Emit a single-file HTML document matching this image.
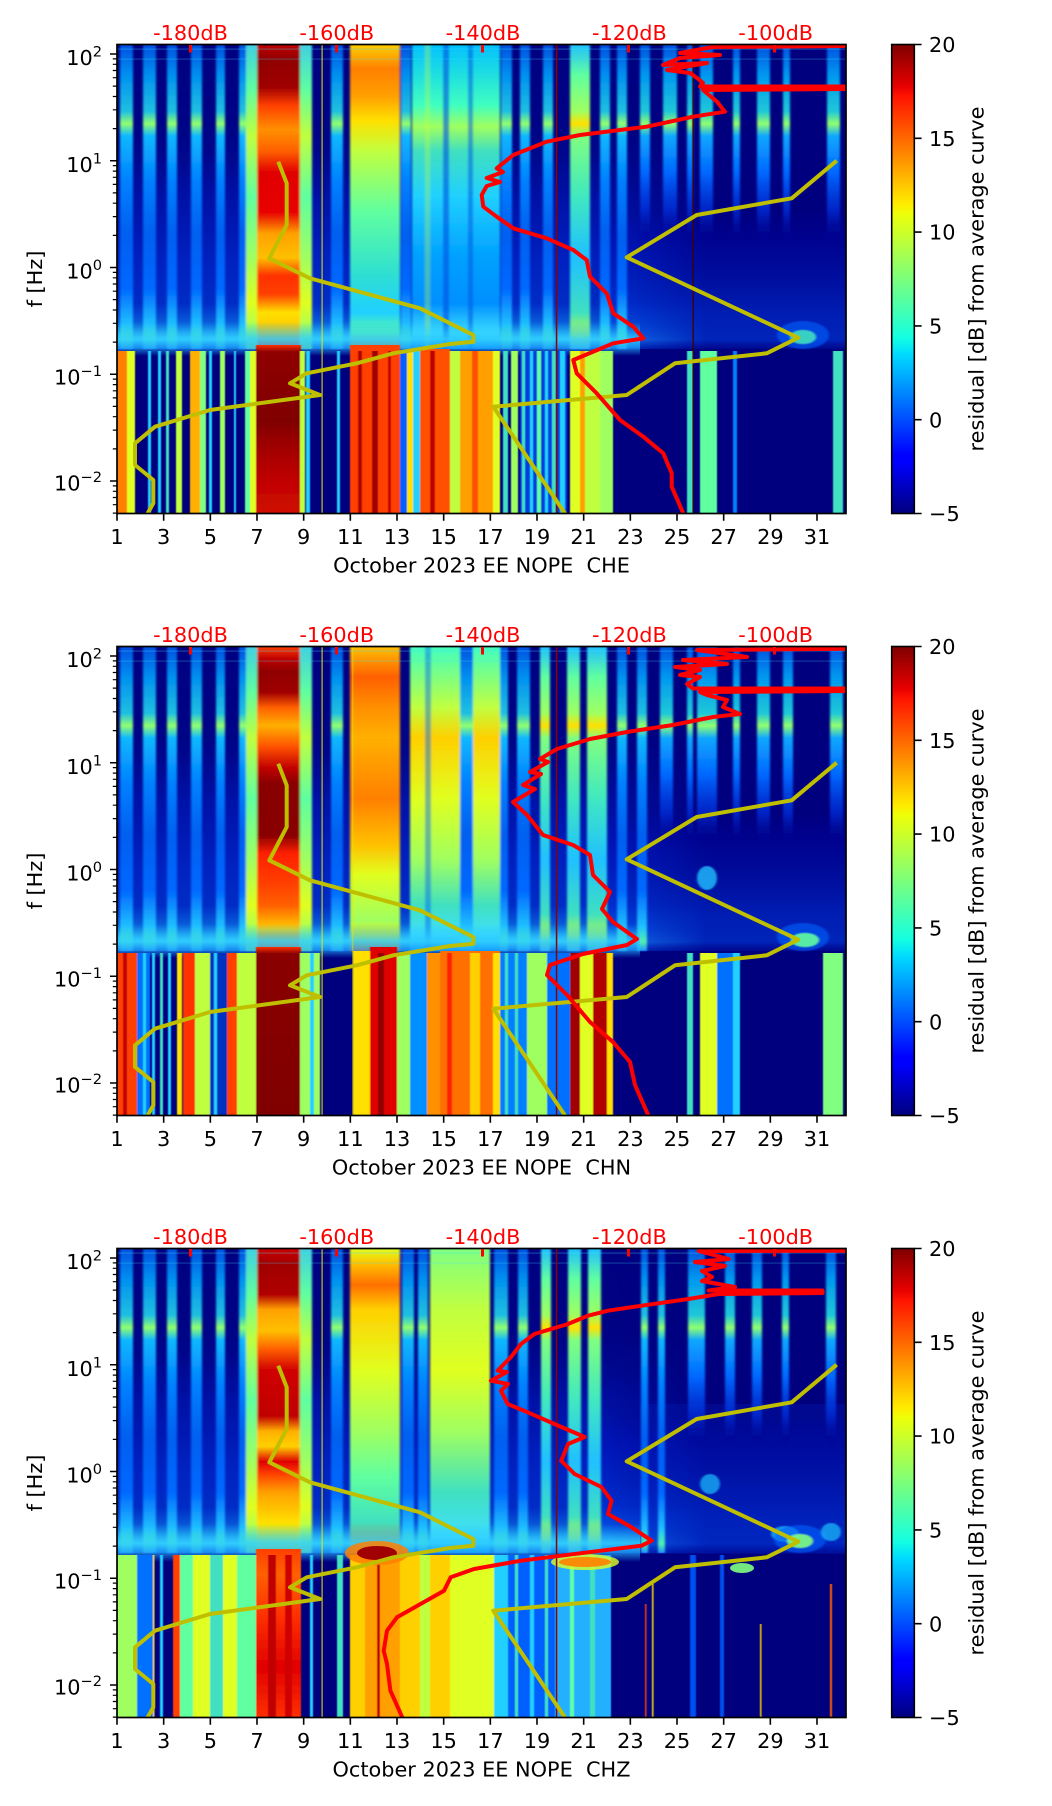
<!DOCTYPE html>
<html><head><meta charset="utf-8">
<style>
html,body{margin:0;padding:0;background:#fff;}
svg{display:block;}
text{font-family:"DejaVu Sans","Liberation Sans",sans-serif;font-size:20.83px;fill:#000;}
.rl{fill:#ff0000;}
</style></head><body>
<svg width="1052" height="1806" viewBox="0 0 1052 1806" xmlns="http://www.w3.org/2000/svg">
<defs>
 <clipPath id="cp"><rect x="117" y="44.5" width="729" height="469"/></clipPath>
 <filter id="bl" x="-5%" y="-5%" width="110%" height="110%"><feGaussianBlur stdDeviation="1.1 0.6"/></filter>
 <filter id="bl2" x="-5%" y="-5%" width="110%" height="110%"><feGaussianBlur stdDeviation="0.6 0.3"/></filter>
 <linearGradient id="hfade" x1="0" y1="0" x2="1" y2="0">
  <stop offset="0" stop-color="#fff"/><stop offset=".8" stop-color="#fff"/><stop offset="1" stop-color="#000"/>
 </linearGradient>
 <mask id="mL" maskUnits="userSpaceOnUse" x="117" y="44" width="600" height="310"><rect x="117" y="44" width="590" height="310" fill="url(#hfade)"/></mask>
 <linearGradient id="cb" x1="0" y1="0" x2="0" y2="1">
  <stop offset="0" stop-color="#7f0000"/><stop offset=".09" stop-color="#e80000"/><stop offset=".11" stop-color="#ff1300"/>
  <stop offset=".34" stop-color="#ffec00"/><stop offset=".36" stop-color="#eeff08"/><stop offset=".5" stop-color="#7bff7b"/>
  <stop offset=".625" stop-color="#14ffe2"/><stop offset=".66" stop-color="#00dbff"/><stop offset=".875" stop-color="#0000ff"/>
  <stop offset=".89" stop-color="#0000ff"/><stop offset="1" stop-color="#00007f"/>
 </linearGradient>
 <linearGradient id="us" x1="0" y1="0" x2="0" y2="1">
  <stop offset="0" stop-color="#0050e0"/><stop offset=".1" stop-color="#0090f0"/><stop offset=".22" stop-color="#20c0e0"/>
  <stop offset=".26" stop-color="#90ff70"/><stop offset=".3" stop-color="#10b8ff"/><stop offset=".45" stop-color="#0080ff"/>
  <stop offset=".62" stop-color="#0060f0"/><stop offset=".8" stop-color="#0068ff"/><stop offset=".92" stop-color="#20c0ff"/>
  <stop offset=".97" stop-color="#50f0b0"/><stop offset="1" stop-color="#2090ff"/>
 </linearGradient>
 <linearGradient id="usr" x1="0" y1="0" x2="0" y2="1">
  <stop offset="0" stop-color="#0050e0"/><stop offset=".1" stop-color="#0098f0"/><stop offset=".22" stop-color="#20c8d8"/>
  <stop offset=".26" stop-color="#90ff70"/><stop offset=".3" stop-color="#10a8ff"/><stop offset=".42" stop-color="#0068ff"/>
  <stop offset=".55" stop-color="#0030e0" stop-opacity=".7"/><stop offset=".66" stop-color="#00007f" stop-opacity="0"/>
  <stop offset="1" stop-color="#00007f" stop-opacity="0"/>
 </linearGradient>
 <linearGradient id="usb" x1="0" y1="0" x2="0" y2="1">
  <stop offset="0" stop-color="#20c0ff"/><stop offset=".1" stop-color="#60ffa0"/><stop offset=".22" stop-color="#a0ff60"/>
  <stop offset=".26" stop-color="#ffe000"/><stop offset=".3" stop-color="#80ff80"/><stop offset=".5" stop-color="#40e8c0"/>
  <stop offset=".7" stop-color="#20c0ff"/><stop offset=".88" stop-color="#40e0c0"/><stop offset=".96" stop-color="#c0ff40"/>
  <stop offset="1" stop-color="#40c0ff"/>
 </linearGradient>
 <linearGradient id="hazeL" x1="0" y1="0" x2="0" y2="1">
  <stop offset="0" stop-color="#0010b0" stop-opacity=".05"/><stop offset=".3" stop-color="#0020c0" stop-opacity=".12"/>
  <stop offset=".5" stop-color="#0030f0" stop-opacity=".35"/><stop offset=".7" stop-color="#0040ff" stop-opacity=".5"/>
  <stop offset=".85" stop-color="#0050ff" stop-opacity=".55"/><stop offset=".93" stop-color="#1090ff" stop-opacity=".75"/>
  <stop offset=".97" stop-color="#30c0ff" stop-opacity=".9"/><stop offset="1" stop-color="#0050ff" stop-opacity=".6"/>
 </linearGradient>
 <linearGradient id="hazeR" x1="0" y1="0" x2="0" y2="1">
  <stop offset="0" stop-color="#0000ff" stop-opacity="0"/><stop offset=".55" stop-color="#0000ff" stop-opacity="0"/>
  <stop offset=".72" stop-color="#0020d0" stop-opacity=".3"/><stop offset=".88" stop-color="#0040f0" stop-opacity=".45"/>
  <stop offset=".97" stop-color="#0050ff" stop-opacity=".45"/><stop offset="1" stop-color="#0020c0" stop-opacity=".25"/>
 </linearGradient>
 <linearGradient id="halo" x1="0" y1="0" x2="0" y2="1">
  <stop offset="0" stop-color="#40d0e0"/><stop offset=".15" stop-color="#60ffa0"/><stop offset=".3" stop-color="#c0ff40"/>
  <stop offset=".5" stop-color="#60ffa0"/><stop offset=".7" stop-color="#a0ff60"/><stop offset=".85" stop-color="#e0ff20"/>
  <stop offset="1" stop-color="#80ff80"/>
 </linearGradient>
 <linearGradient id="c7a" x1="0" y1="0" x2="0" y2="1">
  <stop offset="0" stop-color="#c00000"/><stop offset=".05" stop-color="#900000"/><stop offset=".14" stop-color="#a00000"/>
  <stop offset=".2" stop-color="#ff4000"/><stop offset=".28" stop-color="#ff9000"/><stop offset=".35" stop-color="#ff6000"/>
  <stop offset=".42" stop-color="#e00000"/><stop offset=".55" stop-color="#e80000"/><stop offset=".62" stop-color="#ffa000"/>
  <stop offset=".7" stop-color="#ffc000"/><stop offset=".76" stop-color="#ff3000"/><stop offset=".82" stop-color="#ff4000"/>
  <stop offset=".88" stop-color="#ffe000"/><stop offset=".95" stop-color="#ffc000"/><stop offset="1" stop-color="#ff2000"/>
 </linearGradient>
 <linearGradient id="c7b" x1="0" y1="0" x2="0" y2="1">
  <stop offset="0" stop-color="#ff4000"/><stop offset=".04" stop-color="#c00000"/><stop offset=".08" stop-color="#900000"/>
  <stop offset=".15" stop-color="#a00000"/><stop offset=".2" stop-color="#ff6000"/><stop offset=".26" stop-color="#ffb000"/>
  <stop offset=".33" stop-color="#ff5000"/><stop offset=".4" stop-color="#c00000"/><stop offset=".45" stop-color="#880000"/>
  <stop offset=".62" stop-color="#880000"/><stop offset=".68" stop-color="#ff2000"/><stop offset=".78" stop-color="#ff4000"/>
  <stop offset=".85" stop-color="#ff6000"/><stop offset=".93" stop-color="#ffd000"/><stop offset="1" stop-color="#ff6000"/>
 </linearGradient>
 <linearGradient id="c7c" x1="0" y1="0" x2="0" y2="1">
  <stop offset="0" stop-color="#d00000"/><stop offset=".05" stop-color="#a00000"/><stop offset=".15" stop-color="#b00000"/>
  <stop offset=".2" stop-color="#ffa000"/><stop offset=".27" stop-color="#ffc000"/><stop offset=".33" stop-color="#ff6000"/>
  <stop offset=".4" stop-color="#d00000"/><stop offset=".55" stop-color="#c00000"/><stop offset=".6" stop-color="#ffb000"/>
  <stop offset=".65" stop-color="#ffd000"/><stop offset=".7" stop-color="#e00000"/><stop offset=".74" stop-color="#ff4000"/>
  <stop offset=".8" stop-color="#ffa000"/><stop offset=".9" stop-color="#ffe000"/><stop offset="1" stop-color="#c0ff40"/>
 </linearGradient>
 <linearGradient id="c11a" x1="0" y1="0" x2="0" y2="1">
  <stop offset="0" stop-color="#ffd000"/><stop offset=".08" stop-color="#ff8000"/><stop offset=".17" stop-color="#ffa000"/>
  <stop offset=".25" stop-color="#ffe000"/><stop offset=".35" stop-color="#c0ff40"/><stop offset=".55" stop-color="#60ffa0"/>
  <stop offset=".75" stop-color="#30e0d0"/><stop offset=".88" stop-color="#20d0ff"/><stop offset=".95" stop-color="#60ffa0"/>
  <stop offset="1" stop-color="#ff8000"/>
 </linearGradient>
 <linearGradient id="c11b" x1="0" y1="0" x2="0" y2="1">
  <stop offset="0" stop-color="#ffc000"/><stop offset=".1" stop-color="#ff6000"/><stop offset=".2" stop-color="#ff9000"/>
  <stop offset=".3" stop-color="#ffb000"/><stop offset=".5" stop-color="#ff8000"/><stop offset=".65" stop-color="#ffc000"/>
  <stop offset=".75" stop-color="#e0ff20"/><stop offset=".9" stop-color="#a0ff60"/><stop offset=".96" stop-color="#ffe000"/>
  <stop offset="1" stop-color="#ff4000"/>
 </linearGradient>
 <linearGradient id="c11c" x1="0" y1="0" x2="0" y2="1">
  <stop offset="0" stop-color="#e0ff20"/><stop offset=".05" stop-color="#ffc000"/><stop offset=".12" stop-color="#ff7000"/>
  <stop offset=".2" stop-color="#ffd000"/><stop offset=".4" stop-color="#e0ff20"/><stop offset=".6" stop-color="#a0ff60"/>
  <stop offset=".75" stop-color="#60ffa0"/><stop offset=".9" stop-color="#40e0c0"/><stop offset="1" stop-color="#ff8000"/>
 </linearGradient>
 <linearGradient id="ccga" x1="0" y1="0" x2="0" y2="1">
  <stop offset="0" stop-color="#00c0ff"/><stop offset=".2" stop-color="#40ffc0"/><stop offset=".27" stop-color="#a0ff60"/>
  <stop offset=".35" stop-color="#40e0c0"/><stop offset=".5" stop-color="#20d0ff"/><stop offset=".7" stop-color="#00a0ff"/>
  <stop offset=".85" stop-color="#0090ff"/><stop offset=".95" stop-color="#40e0ff"/><stop offset="1" stop-color="#0080ff"/>
 </linearGradient>
 <linearGradient id="ccgb" x1="0" y1="0" x2="0" y2="1">
  <stop offset="0" stop-color="#40ffc0"/><stop offset=".2" stop-color="#c0ff40"/><stop offset=".3" stop-color="#ffd000"/>
  <stop offset=".5" stop-color="#e0ff20"/><stop offset=".7" stop-color="#a0ff60"/><stop offset=".85" stop-color="#40e0c0"/>
  <stop offset=".95" stop-color="#40e0ff"/><stop offset="1" stop-color="#0080ff"/>
 </linearGradient>
 <linearGradient id="ccgc" x1="0" y1="0" x2="0" y2="1">
  <stop offset="0" stop-color="#80ff80"/><stop offset=".2" stop-color="#c0ff40"/><stop offset=".4" stop-color="#e0ff20"/>
  <stop offset=".6" stop-color="#a0ff60"/><stop offset=".8" stop-color="#40e0c0"/><stop offset=".95" stop-color="#40e0ff"/>
  <stop offset="1" stop-color="#0080ff"/>
 </linearGradient>
 <linearGradient id="msb" x1="0" y1="0" x2="0" y2="1">
  <stop offset="0" stop-color="#20c0ff" stop-opacity="0"/><stop offset=".5" stop-color="#30d0ff" stop-opacity=".85"/>
  <stop offset=".75" stop-color="#20b0ff" stop-opacity=".7"/><stop offset="1" stop-color="#20b0ff" stop-opacity="0"/>
 </linearGradient>
 <linearGradient id="dra" x1="0" y1="0" x2="0" y2="1">
  <stop offset="0" stop-color="#ff3000"/><stop offset=".04" stop-color="#900000"/><stop offset=".45" stop-color="#800000"/>
  <stop offset=".6" stop-color="#a00000"/><stop offset=".8" stop-color="#c00000"/><stop offset="1" stop-color="#d01000"/>
 </linearGradient>
 <linearGradient id="drb" x1="0" y1="0" x2="0" y2="1">
  <stop offset="0" stop-color="#ff3000"/><stop offset=".04" stop-color="#8a0000"/><stop offset="1" stop-color="#800000"/>
 </linearGradient>
 <linearGradient id="drc" x1="0" y1="0" x2="0" y2="1">
  <stop offset="0" stop-color="#ff4000"/><stop offset=".15" stop-color="#ff6000"/><stop offset=".4" stop-color="#ff3000"/>
  <stop offset=".7" stop-color="#e00000"/><stop offset="1" stop-color="#ff3000"/>
 </linearGradient>
</defs>
<rect width="1052" height="1806" fill="#fff"/>

<!-- ================= PANEL 1 ================= -->
<g>
<g clip-path="url(#cp)">
 <rect x="117" y="44.5" width="729" height="469" fill="#00007f"/>
 <rect x="117" y="44.5" width="590" height="304.5" fill="url(#hazeL)" mask="url(#mL)"/>
 <rect x="600" y="44.5" width="246" height="304.5" fill="url(#hazeR)"/>
 <g filter="url(#bl)">
  <rect x="120" y="44.5" width="13" height="304.5" fill="url(#us)"/>
  <rect x="143" y="44.5" width="13" height="304.5" fill="url(#us)"/>
  <rect x="167" y="44.5" width="10" height="304.5" fill="url(#us)"/>
  <rect x="191" y="44.5" width="11" height="304.5" fill="url(#us)"/>
  <rect x="216" y="44.5" width="9" height="304.5" fill="url(#us)"/>
  <rect x="239" y="44.5" width="11" height="304.5" fill="url(#us)"/>
  <rect x="331" y="44.5" width="12" height="304.5" fill="url(#us)"/>
  <rect x="401" y="44.5" width="10" height="304.5" fill="url(#us)"/>
  <rect x="501" y="44.5" width="11" height="304.5" fill="url(#us)"/>
  <rect x="520" y="44.5" width="10" height="304.5" fill="url(#us)"/>
  <rect x="543" y="44.5" width="10" height="304.5" fill="url(#us)"/>
  <rect x="600" y="44.5" width="10" height="304.5" fill="url(#us)"/>
  <rect x="617" y="44.5" width="10" height="304.5" fill="url(#us)"/>
  <rect x="570" y="44.5" width="20" height="304.5" fill="url(#usb)"/>
  <rect x="640" y="44.5" width="10" height="304.5" fill="url(#usr)"/>
  <rect x="663" y="44.5" width="14" height="304.5" fill="url(#usr)"/>
  <rect x="687" y="44.5" width="6" height="304.5" fill="url(#usr)"/>
  <rect x="700" y="44.5" width="13" height="304.5" fill="url(#usr)"/>
  <rect x="733" y="44.5" width="7" height="304.5" fill="url(#usr)"/>
  <rect x="757" y="44.5" width="13" height="304.5" fill="url(#usr)"/>
  <rect x="783" y="44.5" width="7" height="304.5" fill="url(#usr)"/>
  <rect x="827" y="44.5" width="13" height="304.5" fill="url(#usr)"/>
  <rect x="246" y="44.5" width="66" height="304.5" fill="url(#halo)"/>
  <rect x="257" y="44.5" width="43" height="304.5" fill="url(#c7a)"/>
  <rect x="350" y="44.5" width="50" height="304.5" fill="url(#c11a)"/>
  <rect x="412" y="44.5" width="88" height="304.5" fill="url(#ccga)"/>
  <rect x="443" y="44.5" width="6" height="304.5" fill="#0050e0" opacity=".6"/>
  <rect x="468" y="44.5" width="5" height="304.5" fill="#0050e0" opacity=".5"/>
  <rect x="425" y="44.5" width="5" height="304.5" fill="#c0ff40" opacity=".35"/>
  <ellipse cx="803" cy="335" rx="26" ry="14" fill="#0060ff" opacity=".6"/>
  <ellipse cx="803" cy="337" rx="13" ry="7" fill="#40e0c0" opacity=".9"/>
 </g>
 <rect x="117" y="48.5" width="729" height="1.2" fill="#40e0ff" opacity=".3"/>
 <rect x="117" y="58.5" width="729" height="1.2" fill="#40e0ff" opacity=".25"/>
 <rect x="117" y="322" width="523" height="34" fill="url(#msb)"/>
 <g filter="url(#bl2)">
  <rect x="117" y="351" width="10" height="162.5" fill="#ff8000"/>
  <rect x="127" y="351" width="8" height="162.5" fill="#e0ff20"/>
  <rect x="148" y="351" width="3" height="162.5" fill="#20d0ff"/>
  <rect x="158" y="351" width="3" height="162.5" fill="#20d0ff"/>
  <rect x="166" y="351" width="3" height="162.5" fill="#40e0c0"/>
  <rect x="176" y="351" width="6" height="162.5" fill="#c0ff40"/>
  <rect x="190" y="351" width="10" height="162.5" fill="#ffb000"/>
  <rect x="200" y="351" width="6" height="162.5" fill="#80ff80"/>
  <rect x="209" y="351" width="3" height="162.5" fill="#20d0ff"/>
  <rect x="220" y="351" width="5" height="162.5" fill="#a0ff60"/>
  <rect x="234" y="351" width="2" height="162.5" fill="#20d0ff"/>
  <rect x="245" y="351" width="5" height="162.5" fill="#60ffa0"/>
  <rect x="250" y="351" width="8" height="162.5" fill="#e0ff20"/>
  <rect x="256" y="345" width="45" height="168.5" fill="url(#dra)"/>
  <rect x="300" y="351" width="5" height="162.5" fill="#c0ff40"/>
  <rect x="306" y="351" width="4" height="162.5" fill="#20d0ff"/>
  <rect x="337" y="351" width="3" height="162.5" fill="#20d0ff"/>
  <rect x="350" y="345" width="50" height="168.5" fill="#ff4000"/>
  <rect x="358" y="351" width="4" height="162.5" fill="#b00000"/>
  <rect x="372" y="351" width="6" height="162.5" fill="#a00000"/>
  <rect x="388" y="351" width="3" height="162.5" fill="#c00000"/>
  <rect x="400" y="351" width="7" height="162.5" fill="#0060ff"/>
  <rect x="407" y="351" width="6" height="162.5" fill="#ffe000"/>
  <rect x="413" y="351" width="7" height="162.5" fill="#20d0ff"/>
  <rect x="420" y="349" width="30" height="164.5" fill="#ff5000"/>
  <rect x="430" y="351" width="5" height="162.5" fill="#c00000"/>
  <rect x="450" y="351" width="10" height="162.5" fill="#c0ff40"/>
  <rect x="460" y="351" width="33" height="162.5" fill="#ffa000"/>
  <rect x="472" y="351" width="6" height="162.5" fill="#ff5000"/>
  <rect x="493" y="351" width="7" height="162.5" fill="#e0ff20"/>
  <rect x="503" y="351" width="5" height="162.5" fill="#40e0c0"/>
  <rect x="511" y="351" width="7" height="162.5" fill="#a0ff60"/>
  <rect x="520" y="351" width="47" height="162.5" fill="#0040e0"/>
  <rect x="522" y="351" width="3" height="162.5" fill="#40e0c0"/>
  <rect x="530" y="351" width="3" height="162.5" fill="#20d0ff"/>
  <rect x="537" y="351" width="4" height="162.5" fill="#60ffa0"/>
  <rect x="545" y="351" width="3" height="162.5" fill="#20d0ff"/>
  <rect x="552" y="351" width="4" height="162.5" fill="#40e0c0"/>
  <rect x="560" y="351" width="5" height="162.5" fill="#20d0ff"/>
  <rect x="570" y="351" width="10" height="162.5" fill="#e0ff20"/>
  <rect x="580" y="351" width="5" height="162.5" fill="#ffa000"/>
  <rect x="585" y="351" width="15" height="162.5" fill="#c0ff40"/>
  <rect x="600" y="351" width="13" height="162.5" fill="#a0ff60"/>
  <rect x="687" y="351" width="6" height="162.5" fill="#40e0c0"/>
  <rect x="700" y="351" width="17" height="162.5" fill="#60ffa0"/>
  <rect x="733" y="351" width="4" height="162.5" fill="#0080ff"/>
  <rect x="833" y="351" width="10" height="162.5" fill="#40e0c0"/>
 </g>
 <rect x="321.5" y="44.5" width="1.2" height="469" fill="#e8e800" opacity=".85"/>
 <rect x="555.8" y="44.5" width="1.5" height="469" fill="#8b0000"/>
 <rect x="692.5" y="44.5" width="1.3" height="469" fill="#400000"/>
 <polyline fill="none" stroke="#bfbf00" stroke-width="4" stroke-linejoin="round" points="278.3,161.7 286.7,183.3 286.7,225 269.3,258.3 310,278.3 383.3,298.3 420,308.3 473.3,335 473.3,341.7 450,344 393.3,353.3 356.7,363.3 306.7,373.3 290,383.3 320,395 210,410 155,426.7 135,443.3 135,465 153.3,480 153.3,503.3 146.7,515"/>
 <polyline fill="none" stroke="#bfbf00" stroke-width="4" stroke-linejoin="round" points="836.7,160.7 791.7,198.3 696.7,215 626.7,257.3 798.3,337.7 766.7,353.3 675,363.3 626.7,395 493.3,406.7 566,515"/>
 <polyline fill="none" stroke="#ff0000" stroke-width="4" stroke-linejoin="round" points="850,46 713,47 680,53 720,55 680,58 663,65 707,63 667,70 690,73 697,78 703,83 700,86.5 850,86.5 850,89 703,90 717,101.7 725,111.7 693,116.7 646.7,126.7 580,135 546.7,141.7 513.3,155 496.7,168.3 503,172 486.7,178 500,182 486.7,186 481.7,195 483.3,206.7 496.7,216.7 513.3,228.3 546.7,238.3 573.3,250 586.7,260 590,276.7 606.7,293.3 613.3,313.3 633.3,326.7 643.3,338.3 613.3,343.3 573.3,360 576.7,373.3 596.7,393.3 620,420 643.3,436.7 663.3,453.3 671.7,473.3 671.7,486.7 684,515"/>
</g>
<rect x="117" y="44.5" width="729" height="469" fill="none" stroke="#000" stroke-width="1.7"/>
<g fill="#ff0000"><rect x="189" y="45" width="3" height="7.5"/><rect x="335" y="45" width="3" height="7.5"/><rect x="481" y="45" width="3" height="7.5"/><rect x="627" y="45" width="3" height="7.5"/><rect x="773" y="45" width="3" height="7.5"/></g>
<g><text class="rl" x="190.5" y="40" text-anchor="middle">-180dB</text><text class="rl" x="336.8" y="40" text-anchor="middle">-160dB</text><text class="rl" x="483" y="40" text-anchor="middle">-140dB</text><text class="rl" x="629.4" y="40" text-anchor="middle">-120dB</text><text class="rl" x="775.7" y="40" text-anchor="middle">-100dB</text></g>
<path fill="none" stroke="#000" stroke-width="1.6" d="M110,54H117M110,160.75H117M110,267.5H117M110,374.25H117M110,481H117M117,513.5V520.8M163.67,513.5V520.8M210.33,513.5V520.8M257,513.5V520.8M303.67,513.5V520.8M350.33,513.5V520.8M397,513.5V520.8M443.67,513.5V520.8M490.33,513.5V520.8M537,513.5V520.8M583.67,513.5V520.8M630.33,513.5V520.8M677,513.5V520.8M723.67,513.5V520.8M770.33,513.5V520.8M817,513.5V520.8"/>
<path fill="none" stroke="#000" stroke-width="1.2" d="M112.8,128.6H117M112.8,109.8H117M112.8,96.5H117M112.8,86.1H117M112.8,77.7H117M112.8,70.5H117M112.8,64.3H117M112.8,58.9H117M112.8,235.4H117M112.8,216.6H117M112.8,203.2H117M112.8,192.9H117M112.8,184.4H117M112.8,177.3H117M112.8,171.1H117M112.8,165.6H117M112.8,342.1H117M112.8,323.3H117M112.8,310H117M112.8,299.6H117M112.8,291.2H117M112.8,284H117M112.8,277.8H117M112.8,272.4H117M112.8,448.9H117M112.8,430.1H117M112.8,416.7H117M112.8,406.4H117M112.8,397.9H117M112.8,390.8H117M112.8,384.6H117M112.8,379.1H117M112.8,513.1H117M112.8,504.7H117M112.8,497.5H117M112.8,491.3H117M112.8,485.9H117"/>
<text x="102" y="65" text-anchor="end">10<tspan dy="-8.5" font-size="14.6">2</tspan></text>
<text x="102" y="171.75" text-anchor="end">10<tspan dy="-8.5" font-size="14.6">1</tspan></text>
<text x="102" y="278.5" text-anchor="end">10<tspan dy="-8.5" font-size="14.6">0</tspan></text>
<text x="102" y="384.5" text-anchor="end">10<tspan dy="-8.5" font-size="14.6">−1</tspan></text>
<text x="102" y="490.7" text-anchor="end">10<tspan dy="-8.5" font-size="14.6">−2</tspan></text>
<g text-anchor="middle"><text x="117" y="544">1</text><text x="163.67" y="544">3</text><text x="210.33" y="544">5</text><text x="257" y="544">7</text><text x="303.67" y="544">9</text><text x="350.33" y="544">11</text><text x="397" y="544">13</text><text x="443.67" y="544">15</text><text x="490.33" y="544">17</text><text x="537" y="544">19</text><text x="583.67" y="544">21</text><text x="630.33" y="544">23</text><text x="677" y="544">25</text><text x="723.67" y="544">27</text><text x="770.33" y="544">29</text><text x="817" y="544">31</text></g>
<text x="481.5" y="572.7" text-anchor="middle" xml:space="preserve">October 2023 EE NOPE  CHE</text>
<text transform="translate(42,279) rotate(-90)" text-anchor="middle">f [Hz]</text>
<rect x="891.7" y="44.5" width="22.6" height="469" fill="url(#cb)" stroke="#000" stroke-width="1.6"/>
<path fill="none" stroke="#000" stroke-width="1.6" d="M914.3,44.5H921.6M914.3,138.3H921.6M914.3,232.1H921.6M914.3,325.9H921.6M914.3,419.7H921.6M914.3,513.5H921.6"/>
<text x="929" y="52.1">20</text><text x="929" y="145.9">15</text><text x="929" y="239.7">10</text><text x="929" y="333.5">5</text><text x="929" y="427.3">0</text><text x="929" y="521.1">−5</text>
<text transform="translate(983.5,279) rotate(-90)" text-anchor="middle">residual [dB] from average curve</text>
</g>

<!-- ================= PANEL 2 ================= -->
<g transform="translate(0,602)">
<g clip-path="url(#cp)">
 <rect x="117" y="44.5" width="729" height="469" fill="#00007f"/>
 <rect x="117" y="44.5" width="590" height="304.5" fill="url(#hazeL)" mask="url(#mL)"/>
 <rect x="600" y="44.5" width="246" height="304.5" fill="url(#hazeR)"/>
 <g filter="url(#bl)">
  <rect x="120" y="44.5" width="13" height="304.5" fill="url(#us)"/>
  <rect x="143" y="44.5" width="13" height="304.5" fill="url(#us)"/>
  <rect x="167" y="44.5" width="10" height="304.5" fill="url(#us)"/>
  <rect x="191" y="44.5" width="11" height="304.5" fill="url(#us)"/>
  <rect x="216" y="44.5" width="9" height="304.5" fill="url(#us)"/>
  <rect x="239" y="44.5" width="11" height="304.5" fill="url(#us)"/>
  <rect x="331" y="44.5" width="12" height="304.5" fill="url(#us)"/>
  <rect x="460" y="44.5" width="13" height="304.5" fill="url(#us)"/>
  <rect x="500" y="44.5" width="8" height="304.5" fill="url(#us)"/>
  <rect x="517" y="44.5" width="13" height="304.5" fill="url(#us)"/>
  <rect x="617" y="44.5" width="10" height="304.5" fill="url(#us)"/>
  <rect x="637" y="44.5" width="10" height="304.5" fill="url(#us)"/>
  <rect x="540" y="44.5" width="10" height="304.5" fill="url(#usb)"/>
  <rect x="567" y="44.5" width="13" height="304.5" fill="url(#usb)"/>
  <rect x="587" y="44.5" width="20" height="304.5" fill="url(#usb)"/>
  <rect x="660" y="44.5" width="13" height="304.5" fill="url(#usr)"/>
  <rect x="687" y="44.5" width="6" height="304.5" fill="url(#usr)"/>
  <rect x="697" y="44.5" width="20" height="304.5" fill="url(#usr)"/>
  <rect x="733" y="44.5" width="7" height="304.5" fill="url(#usr)"/>
  <rect x="757" y="44.5" width="13" height="304.5" fill="url(#usr)"/>
  <rect x="783" y="44.5" width="10" height="304.5" fill="url(#usr)"/>
  <rect x="830" y="44.5" width="13" height="304.5" fill="url(#usr)"/>
  <rect x="246" y="44.5" width="66" height="304.5" fill="url(#halo)"/>
  <rect x="257" y="44.5" width="43" height="304.5" fill="url(#c7b)"/>
  <rect x="350" y="44.5" width="50" height="304.5" fill="url(#c11b)"/>
  <rect x="410" y="44.5" width="50" height="304.5" fill="url(#ccgb)"/>
  <rect x="473" y="44.5" width="27" height="304.5" fill="url(#ccgb)"/>
  <rect x="425" y="44.5" width="6" height="304.5" fill="#0060f0" opacity=".45"/>
  <ellipse cx="707" cy="276" rx="10" ry="12" fill="#20c0ff" opacity=".8"/>
  <ellipse cx="803" cy="335" rx="26" ry="14" fill="#0060ff" opacity=".6"/>
  <ellipse cx="805" cy="338" rx="14" ry="7" fill="#60ffa0" opacity=".9"/>
 </g>
 <rect x="117" y="48.5" width="729" height="1.2" fill="#40e0ff" opacity=".3"/>
 <rect x="117" y="58.5" width="729" height="1.2" fill="#40e0ff" opacity=".25"/>
 <rect x="117" y="322" width="523" height="34" fill="url(#msb)"/>
 <g filter="url(#bl2)">
  <rect x="117" y="351" width="20" height="162.5" fill="#ff4000"/>
  <rect x="123" y="351" width="4" height="162.5" fill="#c00000"/>
  <rect x="137" y="351" width="13" height="162.5" fill="#0070ff"/>
  <rect x="143" y="351" width="3" height="162.5" fill="#20d0ff"/>
  <rect x="152" y="351" width="3" height="162.5" fill="#20d0ff"/>
  <rect x="160" y="351" width="3" height="162.5" fill="#40e0c0"/>
  <rect x="168" y="351" width="3" height="162.5" fill="#20d0ff"/>
  <rect x="177" y="351" width="5" height="162.5" fill="#ffe000"/>
  <rect x="183" y="351" width="12" height="162.5" fill="#ff3000"/>
  <rect x="195" y="351" width="15" height="162.5" fill="#c0ff40"/>
  <rect x="210" y="351" width="17" height="162.5" fill="#0030c0"/>
  <rect x="214" y="351" width="3" height="162.5" fill="#20d0ff"/>
  <rect x="227" y="351" width="10" height="162.5" fill="#ff4000"/>
  <rect x="237" y="351" width="20" height="162.5" fill="#c0ff40"/>
  <rect x="256" y="345" width="45" height="168.5" fill="url(#drb)"/>
  <rect x="300" y="351" width="20" height="162.5" fill="#a0ff60"/>
  <rect x="310" y="351" width="4" height="162.5" fill="#20d0ff"/>
  <rect x="353" y="349" width="17" height="164.5" fill="#ffe000"/>
  <rect x="370" y="345" width="27" height="168.5" fill="#e00000"/>
  <rect x="378" y="351" width="6" height="162.5" fill="#900000"/>
  <rect x="397" y="351" width="13" height="162.5" fill="#a0ff60"/>
  <rect x="410" y="351" width="17" height="162.5" fill="#0090ff"/>
  <rect x="427" y="351" width="13" height="162.5" fill="#ff9000"/>
  <rect x="440" y="349" width="60" height="164.5" fill="#ff7000"/>
  <rect x="447" y="351" width="5" height="162.5" fill="#ff2000"/>
  <rect x="470" y="351" width="10" height="162.5" fill="#ffd000"/>
  <rect x="493" y="351" width="7" height="162.5" fill="#ffe000"/>
  <rect x="500" y="351" width="27" height="162.5" fill="#0080ff"/>
  <rect x="505" y="351" width="3" height="162.5" fill="#40e0c0"/>
  <rect x="515" y="351" width="3" height="162.5" fill="#40e0c0"/>
  <rect x="527" y="351" width="20" height="162.5" fill="#a0ff60"/>
  <rect x="547" y="351" width="23" height="162.5" fill="#0070ff"/>
  <rect x="570" y="351" width="10" height="162.5" fill="#a00000"/>
  <rect x="580" y="351" width="13" height="162.5" fill="#e0ff20"/>
  <rect x="593" y="351" width="14" height="162.5" fill="#b00000"/>
  <rect x="607" y="351" width="6" height="162.5" fill="#ffe000"/>
  <rect x="687" y="351" width="6" height="162.5" fill="#40e0c0"/>
  <rect x="700" y="351" width="17" height="162.5" fill="#e0ff20"/>
  <rect x="717" y="351" width="16" height="162.5" fill="#0070ff"/>
  <rect x="733" y="351" width="7" height="162.5" fill="#20d0ff"/>
  <rect x="823" y="351" width="20" height="162.5" fill="#80ff80"/>
 </g>
 <rect x="321.5" y="44.5" width="1.2" height="469" fill="#e8e800" opacity=".85"/>
 <rect x="352.3" y="44.5" width="1" height="469" fill="#e8e800" opacity=".6"/>
 <rect x="555.8" y="44.5" width="1.5" height="469" fill="#8b0000"/>
 <polyline fill="none" stroke="#bfbf00" stroke-width="4" stroke-linejoin="round" points="278.3,161.7 286.7,183.3 286.7,225 269.3,258.3 310,278.3 383.3,298.3 420,308.3 473.3,335 473.3,341.7 450,344 393.3,353.3 356.7,363.3 306.7,373.3 290,383.3 320,395 210,410 155,426.7 135,443.3 135,465 153.3,480 153.3,503.3 146.7,515"/>
 <polyline fill="none" stroke="#bfbf00" stroke-width="4" stroke-linejoin="round" points="836.7,160.7 791.7,198.3 696.7,215 626.7,257.3 798.3,337.7 766.7,353.3 675,363.3 626.7,395 493.3,406.7 566,515"/>
 <polyline fill="none" stroke="#ff0000" stroke-width="4" stroke-linejoin="round" points="850,46.7 697,48 747,55 683,58 727,62 675,65 700,68 680,73 700,75 687,82 693,86.5 850,86.5 850,89 700,90 707,93 727,98 723,105 740,112 713,115 673,123 627,130 590,137 557,147 540,157 548,160 530,170 541,172 523,183 535,187 513,200 527,213 543,233 573,243 590,253 593,273 610,290 602,307 613,320 637,337 627,343 583,352 550,363 547,373 567,393 590,420 613,440 630,460 635,483 649,515"/>
</g>
<rect x="117" y="44.5" width="729" height="469" fill="none" stroke="#000" stroke-width="1.7"/>
<g fill="#ff0000"><rect x="189" y="45" width="3" height="7.5"/><rect x="335" y="45" width="3" height="7.5"/><rect x="481" y="45" width="3" height="7.5"/><rect x="627" y="45" width="3" height="7.5"/><rect x="773" y="45" width="3" height="7.5"/></g>
<g><text class="rl" x="190.5" y="40" text-anchor="middle">-180dB</text><text class="rl" x="336.8" y="40" text-anchor="middle">-160dB</text><text class="rl" x="483" y="40" text-anchor="middle">-140dB</text><text class="rl" x="629.4" y="40" text-anchor="middle">-120dB</text><text class="rl" x="775.7" y="40" text-anchor="middle">-100dB</text></g>
<path fill="none" stroke="#000" stroke-width="1.6" d="M110,54H117M110,160.75H117M110,267.5H117M110,374.25H117M110,481H117M117,513.5V520.8M163.67,513.5V520.8M210.33,513.5V520.8M257,513.5V520.8M303.67,513.5V520.8M350.33,513.5V520.8M397,513.5V520.8M443.67,513.5V520.8M490.33,513.5V520.8M537,513.5V520.8M583.67,513.5V520.8M630.33,513.5V520.8M677,513.5V520.8M723.67,513.5V520.8M770.33,513.5V520.8M817,513.5V520.8"/>
<path fill="none" stroke="#000" stroke-width="1.2" d="M112.8,128.6H117M112.8,109.8H117M112.8,96.5H117M112.8,86.1H117M112.8,77.7H117M112.8,70.5H117M112.8,64.3H117M112.8,58.9H117M112.8,235.4H117M112.8,216.6H117M112.8,203.2H117M112.8,192.9H117M112.8,184.4H117M112.8,177.3H117M112.8,171.1H117M112.8,165.6H117M112.8,342.1H117M112.8,323.3H117M112.8,310H117M112.8,299.6H117M112.8,291.2H117M112.8,284H117M112.8,277.8H117M112.8,272.4H117M112.8,448.9H117M112.8,430.1H117M112.8,416.7H117M112.8,406.4H117M112.8,397.9H117M112.8,390.8H117M112.8,384.6H117M112.8,379.1H117M112.8,513.1H117M112.8,504.7H117M112.8,497.5H117M112.8,491.3H117M112.8,485.9H117"/>
<text x="102" y="65" text-anchor="end">10<tspan dy="-8.5" font-size="14.6">2</tspan></text>
<text x="102" y="171.75" text-anchor="end">10<tspan dy="-8.5" font-size="14.6">1</tspan></text>
<text x="102" y="278.5" text-anchor="end">10<tspan dy="-8.5" font-size="14.6">0</tspan></text>
<text x="102" y="384.5" text-anchor="end">10<tspan dy="-8.5" font-size="14.6">−1</tspan></text>
<text x="102" y="490.7" text-anchor="end">10<tspan dy="-8.5" font-size="14.6">−2</tspan></text>
<g text-anchor="middle"><text x="117" y="544">1</text><text x="163.67" y="544">3</text><text x="210.33" y="544">5</text><text x="257" y="544">7</text><text x="303.67" y="544">9</text><text x="350.33" y="544">11</text><text x="397" y="544">13</text><text x="443.67" y="544">15</text><text x="490.33" y="544">17</text><text x="537" y="544">19</text><text x="583.67" y="544">21</text><text x="630.33" y="544">23</text><text x="677" y="544">25</text><text x="723.67" y="544">27</text><text x="770.33" y="544">29</text><text x="817" y="544">31</text></g>
<text x="481.5" y="572.7" text-anchor="middle" xml:space="preserve">October 2023 EE NOPE  CHN</text>
<text transform="translate(42,279) rotate(-90)" text-anchor="middle">f [Hz]</text>
<rect x="891.7" y="44.5" width="22.6" height="469" fill="url(#cb)" stroke="#000" stroke-width="1.6"/>
<path fill="none" stroke="#000" stroke-width="1.6" d="M914.3,44.5H921.6M914.3,138.3H921.6M914.3,232.1H921.6M914.3,325.9H921.6M914.3,419.7H921.6M914.3,513.5H921.6"/>
<text x="929" y="52.1">20</text><text x="929" y="145.9">15</text><text x="929" y="239.7">10</text><text x="929" y="333.5">5</text><text x="929" y="427.3">0</text><text x="929" y="521.1">−5</text>
<text transform="translate(983.5,279) rotate(-90)" text-anchor="middle">residual [dB] from average curve</text>
</g>

<!-- ================= PANEL 3 ================= -->
<g transform="translate(0,1204)">
<g clip-path="url(#cp)">
 <rect x="117" y="44.5" width="729" height="469" fill="#00007f"/>
 <rect x="117" y="44.5" width="590" height="304.5" fill="url(#hazeL)" mask="url(#mL)"/>
 <rect x="600" y="44.5" width="246" height="304.5" fill="url(#hazeR)"/>
 <rect x="640" y="200" width="206" height="150" fill="#0030e0" opacity=".18"/>
 <g filter="url(#bl)">
  <rect x="120" y="44.5" width="13" height="304.5" fill="url(#us)"/>
  <rect x="143" y="44.5" width="13" height="304.5" fill="url(#us)"/>
  <rect x="167" y="44.5" width="10" height="304.5" fill="url(#us)"/>
  <rect x="191" y="44.5" width="11" height="304.5" fill="url(#us)"/>
  <rect x="216" y="44.5" width="9" height="304.5" fill="url(#us)"/>
  <rect x="239" y="44.5" width="11" height="304.5" fill="url(#us)"/>
  <rect x="331" y="44.5" width="12" height="304.5" fill="url(#us)"/>
  <rect x="402" y="44.5" width="12" height="304.5" fill="url(#us)"/>
  <rect x="418" y="44.5" width="10" height="304.5" fill="url(#us)"/>
  <rect x="494" y="44.5" width="14" height="304.5" fill="url(#us)"/>
  <rect x="518" y="44.5" width="10" height="304.5" fill="url(#us)"/>
  <rect x="641" y="44.5" width="7" height="304.5" fill="url(#us)"/>
  <rect x="658" y="44.5" width="7" height="304.5" fill="url(#us)"/>
  <rect x="541" y="44.5" width="10" height="304.5" fill="url(#usb)"/>
  <rect x="568" y="44.5" width="13" height="304.5" fill="url(#usb)"/>
  <rect x="588" y="44.5" width="13" height="304.5" fill="url(#usb)"/>
  <rect x="688" y="44.5" width="17" height="304.5" fill="url(#usr)"/>
  <rect x="725" y="44.5" width="10" height="304.5" fill="url(#usr)"/>
  <rect x="752" y="44.5" width="10" height="304.5" fill="url(#usr)"/>
  <rect x="782" y="44.5" width="7" height="304.5" fill="url(#usr)"/>
  <rect x="826" y="44.5" width="10" height="304.5" fill="url(#usr)"/>
  <rect x="246" y="44.5" width="66" height="304.5" fill="url(#halo)"/>
  <rect x="257" y="44.5" width="43" height="304.5" fill="url(#c7c)"/>
  <rect x="350" y="44.5" width="50" height="304.5" fill="url(#c11c)"/>
  <rect x="430" y="44.5" width="60" height="304.5" fill="url(#ccgc)"/>
  <ellipse cx="710" cy="280" rx="10" ry="10" fill="#20c0ff" opacity=".7"/>
  <ellipse cx="785" cy="330" rx="14" ry="8" fill="#20c0ff" opacity=".7"/>
  <ellipse cx="800" cy="335" rx="26" ry="14" fill="#0060ff" opacity=".6"/>
  <ellipse cx="800" cy="337" rx="13" ry="7" fill="#80ff80" opacity=".9"/>
  <ellipse cx="831" cy="328" rx="10" ry="9" fill="#20c0ff" opacity=".7"/>
 </g>
 <rect x="117" y="48.5" width="729" height="1.2" fill="#40e0ff" opacity=".3"/>
 <rect x="117" y="58.5" width="729" height="1.2" fill="#40e0ff" opacity=".25"/>
 <rect x="117" y="320" width="523" height="38" fill="url(#msb)"/>
 <g filter="url(#bl2)">
  <rect x="117" y="351" width="20" height="162.5" fill="#a0ff60"/>
  <rect x="137" y="351" width="16" height="162.5" fill="#0070ff"/>
  <rect x="153" y="351" width="1.5" height="162.5" fill="#ffe000"/>
  <rect x="160" y="351" width="3" height="162.5" fill="#20d0ff"/>
  <rect x="173" y="351" width="7" height="162.5" fill="#ff4000"/>
  <rect x="180" y="351" width="13" height="162.5" fill="#60ffa0"/>
  <rect x="193" y="351" width="17" height="162.5" fill="#e0ff20"/>
  <rect x="210" y="351" width="13" height="162.5" fill="#40e0c0"/>
  <rect x="223" y="351" width="14" height="162.5" fill="#e0ff20"/>
  <rect x="237" y="351" width="20" height="162.5" fill="#60ffa0"/>
  <rect x="256" y="345" width="45" height="168.5" fill="url(#drc)"/>
  <rect x="268" y="351" width="8" height="162.5" fill="#c00000"/>
  <rect x="285" y="351" width="7" height="162.5" fill="#d00000"/>
  <rect x="310" y="351" width="3" height="162.5" fill="#20d0ff"/>
  <rect x="337" y="351" width="6" height="162.5" fill="#40e0c0"/>
  <rect x="350" y="351" width="100" height="162.5" fill="#ffd000"/>
  <rect x="365" y="351" width="35" height="162.5" fill="#ffa000"/>
  <rect x="377" y="351" width="3" height="162.5" fill="#c00000"/>
  <rect x="420" y="351" width="10" height="162.5" fill="#c0ff40"/>
  <rect x="450" y="351" width="44" height="162.5" fill="#e0ff20"/>
  <rect x="494" y="351" width="14" height="162.5" fill="#20d0ff"/>
  <rect x="508" y="351" width="47" height="162.5" fill="#0060ff"/>
  <rect x="515" y="351" width="3" height="162.5" fill="#40e0c0"/>
  <rect x="530" y="351" width="4" height="162.5" fill="#20d0ff"/>
  <rect x="545" y="351" width="3" height="162.5" fill="#40e0c0"/>
  <rect x="555" y="351" width="56" height="162.5" fill="#20b0ff"/>
  <rect x="570" y="351" width="4" height="162.5" fill="#60ffa0"/>
  <rect x="590" y="351" width="5" height="162.5" fill="#40e0c0"/>
  <rect x="645" y="400" width="1.5" height="113.5" fill="#ff4000"/>
  <rect x="652" y="380" width="1.5" height="133.5" fill="#ffe000"/>
  <rect x="690" y="351" width="6" height="162.5" fill="#0050f0"/>
  <rect x="720" y="351" width="4" height="162.5" fill="#0050f0"/>
  <rect x="760" y="420" width="1.5" height="93.5" fill="#ffd000"/>
  <rect x="830" y="380" width="2" height="133.5" fill="#ff6000"/>
 </g>
 <ellipse cx="377" cy="349" rx="32" ry="12" fill="#ff8000" opacity=".85"/>
 <ellipse cx="377" cy="349" rx="20" ry="7" fill="#a00000"/>
 <ellipse cx="585" cy="358" rx="34" ry="8" fill="#e0ff20" opacity=".8"/>
 <ellipse cx="585" cy="358" rx="26" ry="5" fill="#ff8000" opacity=".9"/>
 <ellipse cx="742" cy="364" rx="12" ry="5" fill="#80ff80" opacity=".9"/>
 <rect x="321.5" y="44.5" width="1.2" height="469" fill="#e8e800" opacity=".85"/>
 <rect x="555.8" y="44.5" width="1.5" height="469" fill="#8b0000"/>
 <polyline fill="none" stroke="#bfbf00" stroke-width="4" stroke-linejoin="round" points="278.3,161.7 286.7,183.3 286.7,225 269.3,258.3 310,278.3 383.3,298.3 420,308.3 473.3,335 473.3,341.7 450,344 393.3,353.3 356.7,363.3 306.7,373.3 290,383.3 320,395 210,410 155,426.7 135,443.3 135,465 153.3,480 153.3,503.3 146.7,515"/>
 <polyline fill="none" stroke="#bfbf00" stroke-width="4" stroke-linejoin="round" points="836.7,160.7 791.7,198.3 696.7,215 626.7,257.3 798.3,337.7 766.7,353.3 675,363.3 626.7,395 493.3,406.7 566,515"/>
 <polyline fill="none" stroke="#ff0000" stroke-width="4" stroke-linejoin="round" points="850,46.7 698.6,47 728.7,55 695,58 725,62 702,67 712,73 702,77 735,83 708.6,86.5 822.5,86.5 822.5,89 718.7,90 688.5,95 641.6,101.7 608,106.7 588,111.7 568,120 534.4,130 521,140 511,153 497.6,166.7 507,168 490.9,176.7 508,180 501,186.7 507.6,200 527.7,208.3 554.5,220 584.7,233 568,240 561.2,256.7 574.6,270 601.4,283 611.5,296.7 608,310 631.6,323.3 651.7,336.7 641.6,341.7 588,348.3 521,356.7 474,365 450.7,373.3 444,386.7 420.5,400 397,413.3 387,426.7 383.7,446.7 387,460 390.4,486.7 403,515"/>
</g>
<rect x="117" y="44.5" width="729" height="469" fill="none" stroke="#000" stroke-width="1.7"/>
<g fill="#ff0000"><rect x="189" y="45" width="3" height="7.5"/><rect x="335" y="45" width="3" height="7.5"/><rect x="481" y="45" width="3" height="7.5"/><rect x="627" y="45" width="3" height="7.5"/><rect x="773" y="45" width="3" height="7.5"/></g>
<g><text class="rl" x="190.5" y="40" text-anchor="middle">-180dB</text><text class="rl" x="336.8" y="40" text-anchor="middle">-160dB</text><text class="rl" x="483" y="40" text-anchor="middle">-140dB</text><text class="rl" x="629.4" y="40" text-anchor="middle">-120dB</text><text class="rl" x="775.7" y="40" text-anchor="middle">-100dB</text></g>
<path fill="none" stroke="#000" stroke-width="1.6" d="M110,54H117M110,160.75H117M110,267.5H117M110,374.25H117M110,481H117M117,513.5V520.8M163.67,513.5V520.8M210.33,513.5V520.8M257,513.5V520.8M303.67,513.5V520.8M350.33,513.5V520.8M397,513.5V520.8M443.67,513.5V520.8M490.33,513.5V520.8M537,513.5V520.8M583.67,513.5V520.8M630.33,513.5V520.8M677,513.5V520.8M723.67,513.5V520.8M770.33,513.5V520.8M817,513.5V520.8"/>
<path fill="none" stroke="#000" stroke-width="1.2" d="M112.8,128.6H117M112.8,109.8H117M112.8,96.5H117M112.8,86.1H117M112.8,77.7H117M112.8,70.5H117M112.8,64.3H117M112.8,58.9H117M112.8,235.4H117M112.8,216.6H117M112.8,203.2H117M112.8,192.9H117M112.8,184.4H117M112.8,177.3H117M112.8,171.1H117M112.8,165.6H117M112.8,342.1H117M112.8,323.3H117M112.8,310H117M112.8,299.6H117M112.8,291.2H117M112.8,284H117M112.8,277.8H117M112.8,272.4H117M112.8,448.9H117M112.8,430.1H117M112.8,416.7H117M112.8,406.4H117M112.8,397.9H117M112.8,390.8H117M112.8,384.6H117M112.8,379.1H117M112.8,513.1H117M112.8,504.7H117M112.8,497.5H117M112.8,491.3H117M112.8,485.9H117"/>
<text x="102" y="65" text-anchor="end">10<tspan dy="-8.5" font-size="14.6">2</tspan></text>
<text x="102" y="171.75" text-anchor="end">10<tspan dy="-8.5" font-size="14.6">1</tspan></text>
<text x="102" y="278.5" text-anchor="end">10<tspan dy="-8.5" font-size="14.6">0</tspan></text>
<text x="102" y="384.5" text-anchor="end">10<tspan dy="-8.5" font-size="14.6">−1</tspan></text>
<text x="102" y="490.7" text-anchor="end">10<tspan dy="-8.5" font-size="14.6">−2</tspan></text>
<g text-anchor="middle"><text x="117" y="544">1</text><text x="163.67" y="544">3</text><text x="210.33" y="544">5</text><text x="257" y="544">7</text><text x="303.67" y="544">9</text><text x="350.33" y="544">11</text><text x="397" y="544">13</text><text x="443.67" y="544">15</text><text x="490.33" y="544">17</text><text x="537" y="544">19</text><text x="583.67" y="544">21</text><text x="630.33" y="544">23</text><text x="677" y="544">25</text><text x="723.67" y="544">27</text><text x="770.33" y="544">29</text><text x="817" y="544">31</text></g>
<text x="481.5" y="572.7" text-anchor="middle" xml:space="preserve">October 2023 EE NOPE  CHZ</text>
<text transform="translate(42,279) rotate(-90)" text-anchor="middle">f [Hz]</text>
<rect x="891.7" y="44.5" width="22.6" height="469" fill="url(#cb)" stroke="#000" stroke-width="1.6"/>
<path fill="none" stroke="#000" stroke-width="1.6" d="M914.3,44.5H921.6M914.3,138.3H921.6M914.3,232.1H921.6M914.3,325.9H921.6M914.3,419.7H921.6M914.3,513.5H921.6"/>
<text x="929" y="52.1">20</text><text x="929" y="145.9">15</text><text x="929" y="239.7">10</text><text x="929" y="333.5">5</text><text x="929" y="427.3">0</text><text x="929" y="521.1">−5</text>
<text transform="translate(983.5,279) rotate(-90)" text-anchor="middle">residual [dB] from average curve</text>
</g>
</svg>
</body></html>
